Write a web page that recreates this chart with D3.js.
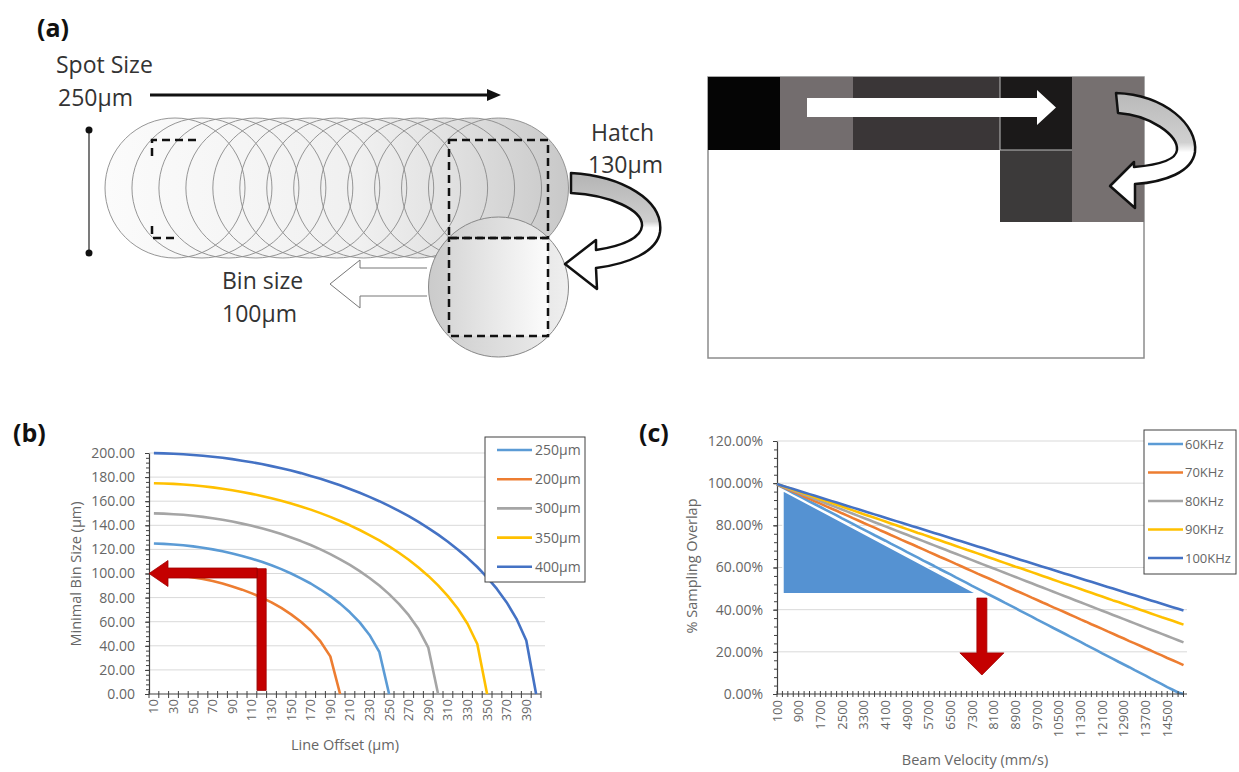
<!DOCTYPE html>
<html>
<head>
<meta charset="utf-8">
<script src="https://cdn.jsdelivr.net/npm/d3@7/dist/d3.min.js"></script>
<style>
  body { margin: 0; background: #fff; }
  svg { display: block; }
</style>
</head>
<body>
<script>
// ---------- (b) Minimal bin size vs line offset ----------
const offsetCategories = d3.range(10, 401, 10);            // Line Offset (µm)
const offsetLabels = d3.range(10, 391, 20);                 // labelled categories
const binTicks = [0, 20, 40, 60, 80, 100, 120, 140, 160, 180, 200];
const binSeriesNames = ["250µm", "200µm", "300µm", "350µm", "400µm"];
const bin250 = [124.9,124.6,124.1,123.4,122.5,121.3,120.0,118.4,116.6,114.6,112.2,109.7,106.8,103.6,100.0,96.0,91.7,86.7,81.2,75.0,67.8,59.4,49.0,35.0,0];
const bin200 = [99.9,99.5,98.9,98.0,96.8,95.4,93.7,91.7,89.3,86.6,83.5,80.0,76.0,71.4,66.1,60.0,52.7,43.6,31.2,0];
const bin300 = [149.9,149.7,149.2,148.7,147.9,147.0,145.9,144.6,143.1,141.4,139.6,137.5,135.2,132.7,129.9,126.9,123.6,120.0,116.1,111.8,107.1,102.0,96.3,90.0,82.9,74.8,65.4,53.9,38.4,0];
const bin350 = [174.9,174.7,174.4,173.9,173.2,172.4,171.5,170.4,169.1,167.7,166.1,164.4,162.5,160.4,158.1,155.6,153.0,150.1,147.0,143.6,140.0,136.1,131.9,127.4,122.5,117.2,111.4,105.0,98.0,90.1,81.2,70.9,58.3,41.5,0];
const bin400 = [199.9,199.7,199.4,199.0,198.4,197.7,196.9,196.0,194.9,193.6,192.3,190.8,189.1,187.3,185.4,183.3,181.0,178.6,176.0,173.2,170.2,167.0,163.6,160.0,156.1,152.0,147.6,142.8,137.7,132.3,126.4,120.0,113.0,105.4,96.8,87.2,76.0,62.4,44.4,0];
const binColors = ["#5b9bd5", "#ed7d31", "#a5a5a5", "#ffc000", "#4472c4"];
// red guide: from offset 120 up to a 100 µm bin, then across to the axis
const binGuide = { offset: 120, from: 3, level: 104, bin: 100 };

// ---------- (c) Sampling overlap vs beam velocity ----------
const velocityCategories = d3.range(100, 15101, 200);      // Beam Velocity (mm/s)
const velocityLabels = d3.range(100, 14501, 800);
const overlapTicks = [0, 20, 40, 60, 80, 100, 120];
const overlapSeriesNames = ["60KHz", "70KHz", "80KHz", "90KHz", "100KHz"];
const ov60 = [99.3,98.0,96.7,95.3,94.0,92.7,91.3,90.0,88.7,87.3,86.0,84.7,83.3,82.0,80.7,79.3,78.0,76.7,75.3,74.0,72.7,71.3,70.0,68.7,67.3,66.0,64.7,63.3,62.0,60.7,59.3,58.0,56.7,55.3,54.0,52.7,51.3,50.0,48.7,47.3,46.0,44.7,43.3,42.0,40.7,39.3,38.0,36.7,35.3,34.0,32.7,31.3,30.0,28.7,27.3,26.0,24.7,23.3,22.0,20.7,19.3,18.0,16.7,15.3,14.0,12.7,11.3,10.0,8.7,7.3,6.0,4.7,3.3,2.0,0.7,0.0];
const ov70 = [99.4,98.3,97.1,96.0,94.9,93.7,92.6,91.4,90.3,89.1,88.0,86.9,85.7,84.6,83.4,82.3,81.1,80.0,78.9,77.7,76.6,75.4,74.3,73.1,72.0,70.9,69.7,68.6,67.4,66.3,65.1,64.0,62.9,61.7,60.6,59.4,58.3,57.1,56.0,54.9,53.7,52.6,51.4,50.3,49.1,48.0,46.9,45.7,44.6,43.4,42.3,41.1,40.0,38.9,37.7,36.6,35.4,34.3,33.1,32.0,30.9,29.7,28.6,27.4,26.3,25.1,24.0,22.9,21.7,20.6,19.4,18.3,17.1,16.0,14.9,13.7];
const ov80 = [99.5,98.5,97.5,96.5,95.5,94.5,93.5,92.5,91.5,90.5,89.5,88.5,87.5,86.5,85.5,84.5,83.5,82.5,81.5,80.5,79.5,78.5,77.5,76.5,75.5,74.5,73.5,72.5,71.5,70.5,69.5,68.5,67.5,66.5,65.5,64.5,63.5,62.5,61.5,60.5,59.5,58.5,57.5,56.5,55.5,54.5,53.5,52.5,51.5,50.5,49.5,48.5,47.5,46.5,45.5,44.5,43.5,42.5,41.5,40.5,39.5,38.5,37.5,36.5,35.5,34.5,33.5,32.5,31.5,30.5,29.5,28.5,27.5,26.5,25.5,24.5];
const ov90 = [99.6,98.7,97.8,96.9,96.0,95.1,94.2,93.3,92.4,91.6,90.7,89.8,88.9,88.0,87.1,86.2,85.3,84.4,83.6,82.7,81.8,80.9,80.0,79.1,78.2,77.3,76.4,75.6,74.7,73.8,72.9,72.0,71.1,70.2,69.3,68.4,67.6,66.7,65.8,64.9,64.0,63.1,62.2,61.3,60.4,59.6,58.7,57.8,56.9,56.0,55.1,54.2,53.3,52.4,51.6,50.7,49.8,48.9,48.0,47.1,46.2,45.3,44.4,43.6,42.7,41.8,40.9,40.0,39.1,38.2,37.3,36.4,35.6,34.7,33.8,32.9];
const ov100 = [99.6,98.8,98.0,97.2,96.4,95.6,94.8,94.0,93.2,92.4,91.6,90.8,90.0,89.2,88.4,87.6,86.8,86.0,85.2,84.4,83.6,82.8,82.0,81.2,80.4,79.6,78.8,78.0,77.2,76.4,75.6,74.8,74.0,73.2,72.4,71.6,70.8,70.0,69.2,68.4,67.6,66.8,66.0,65.2,64.4,63.6,62.8,62.0,61.2,60.4,59.6,58.8,58.0,57.2,56.4,55.6,54.8,54.0,53.2,52.4,51.6,50.8,50.0,49.2,48.4,47.6,46.8,46.0,45.2,44.4,43.6,42.8,42.0,41.2,40.4,39.6];
const overlapColors = ["#5b9bd5", "#ed7d31", "#a5a5a5", "#ffc000", "#4472c4"];
// shaded region below 60KHz line, and red arrow below its tip (velocity, %)
const overlapRegion = [[320, 96.5], [320, 47.5], [7480, 47.5]];
const overlapArrow = { velocity: 7660, top: 45.5, headBase: 19.5, tip: 9 };

const W = 1239, H = 772;
const FONT = "'Open Sans', 'DejaVu Sans', sans-serif";
const TXT = "#666";
const AXIS = "#404040";
const GRID = "#d9d9d9";
const TICK_FS = 14, TITLE_FS = 14.5, XLAB_FS = 13;

const svg = d3.select("body").append("svg").attr("width", W).attr("height", H)
  .style("font-family", FONT);
const defs = svg.append("defs");

function linGrad(id, x1, y1, x2, y2, stops) {
  const g = defs.append("linearGradient").attr("id", id)
    .attr("gradientUnits", "userSpaceOnUse")
    .attr("x1", x1).attr("y1", y1).attr("x2", x2).attr("y2", y2);
  stops.forEach(([o, c]) => g.append("stop").attr("offset", o).attr("stop-color", c));
}

// ---------- panel labels ----------
[["(a)", 37, 37], ["(b)", 13, 442], ["(c)", 639, 442]].forEach(([t, x, y]) =>
  svg.append("text").attr("x", x).attr("y", y).text(t)
    .attr("font-size", 25).attr("font-weight", 700).attr("fill", "#111"));

// ---------- (a) scan schematic ----------
const a = svg.append("g");
const bigText = (t, x, y) => a.append("text").attr("x", x).attr("y", y).text(t)
  .attr("font-size", 23).attr("fill", "#333");

bigText("Spot Size", 56, 73);
bigText("250µm", 58, 106);
a.append("line").attr("x1", 150).attr("x2", 490).attr("y1", 95).attr("y2", 95)
  .attr("stroke", "#111").attr("stroke-width", 3);
a.append("path").attr("d", "M487,89 L501,95 L487,101 Z").attr("fill", "#111");

// spot diameter marker
a.append("line").attr("x1", 89).attr("x2", 89).attr("y1", 130).attr("y2", 253)
  .attr("stroke", "#222").attr("stroke-width", 1.2);
[130, 253].forEach(y => a.append("circle").attr("cx", 89).attr("cy", y).attr("r", 3.5).attr("fill", "#111"));

// overlapping spots along the scan line
linGrad("tubeGrad", 105, 0, 569, 0, [[0, "#fbfbfb"], [0.55, "#f0f0f0"], [0.72, "#e3e3e3"], [1, "#c8c8c8"]]);
const spotR = 70, spotY = 188;
const spotX = d3.range(13).map(i => 175 + i * (498.5 - 175) / 12);
a.selectAll("circle.spotfill").data(spotX).join("circle")
  .attr("cx", d => d).attr("cy", spotY).attr("r", spotR).attr("fill", "url(#tubeGrad)");
a.selectAll("circle.spotline").data(spotX).join("circle")
  .attr("cx", d => d).attr("cy", spotY).attr("r", spotR)
  .attr("fill", "none").attr("stroke", "#8a8a8a").attr("stroke-width", 0.9);

// first bin corners (left)
a.append("path").attr("d", "M152,156 V140 H196 M152,226 V238 H178")
  .attr("fill", "none").attr("stroke", "#111").attr("stroke-width", 2.5).attr("stroke-dasharray", "8,5");

// next-line spot and its bin
linGrad("lowGrad", 428, 0, 569, 0, [[0, "#cbcbcb"], [1, "#efefef"]]);
linGrad("binGrad", 449, 0, 548, 0, [[0, "#d8d8d8"], [1, "#fcfcfc"]]);
a.append("circle").attr("cx", 498.5).attr("cy", 287).attr("r", 70)
  .attr("fill", "url(#lowGrad)").attr("stroke", "#888").attr("stroke-width", 1);
a.append("rect").attr("x", 449).attr("y", 238).attr("width", 99).attr("height", 98)
  .attr("fill", "url(#binGrad)").attr("stroke", "#111").attr("stroke-width", 2.5).attr("stroke-dasharray", "8,5");
a.append("rect").attr("x", 449).attr("y", 140).attr("width", 99).attr("height", 98)
  .attr("fill", "none").attr("stroke", "#111").attr("stroke-width", 2.5).attr("stroke-dasharray", "8,5");

// hatch arrow
linGrad("hatchGrad", 0, 172, 0, 262, [[0, "#b3b3b3"], [0.55, "#cfcfcf"], [0.62, "#ffffff"], [1, "#ffffff"]]);
a.append("path")
  .attr("d", "M571,173 C622,176 664,200 660,232 C657,252 628,264 596,268 L597,289 L565,264 L596,240 L596,250 C622,246 641,238 642,226 C643,210 610,195 571,193 Z")
  .attr("fill", "url(#hatchGrad)").attr("stroke", "#111").attr("stroke-width", 2.5).attr("stroke-linejoin", "round");
bigText("Hatch", 591, 141);
bigText("130µm", 588, 173);

// bin-size arrow
a.append("path").attr("d", "M427,268 L360,268 L360,260 L330,284 L360,308 L360,296 L427,296")
  .attr("fill", "#fff").attr("stroke", "#777").attr("stroke-width", 1);
bigText("Bin size", 222, 289);
bigText("100µm", 222, 322);

// raster of bins (right)
const boxes = [
  [708, 77, 72, 73, "#050505"],
  [780, 77, 73, 73, "#736d6e"],
  [853, 77, 147, 73, "#3a3637"],
  [1000, 77, 72, 73, "#1b1919"],
  [1072, 77, 72, 145, "#767070"],
  [1000, 150, 72, 72, "#3c3a3a"]
];
a.append("rect").attr("x", 708).attr("y", 77).attr("width", 436).attr("height", 281)
  .attr("fill", "#fff").attr("stroke", "#8c8c8c").attr("stroke-width", 1.5);
boxes.forEach(([x, y, w, h, c]) => a.append("rect").attr("x", x).attr("y", y)
  .attr("width", w).attr("height", h).attr("fill", c));
a.append("path").attr("d", "M1000,77 V150 M1000,150 H1072").attr("stroke", "#bdbdbd").attr("stroke-width", 1);
a.append("path").attr("d", "M807,98 L1037,98 L1037,90 L1056,107.5 L1037,125 L1037,117 L807,117 Z").attr("fill", "#fff");
linGrad("hatchGrad2", 0, 93, 0, 192, [[0, "#b9b9b9"], [0.5, "#d0d0d0"], [0.6, "#ffffff"], [1, "#ffffff"]]);
a.append("path")
  .attr("d", "M1116,93 C1165,95 1198,125 1195,152 C1192,172 1165,182 1135,184 L1135,208 L1110,186 L1134,162 L1134,167 C1158,165 1176,160 1177,150 C1178,135 1150,115 1118,113 Z")
  .attr("fill", "url(#hatchGrad2)").attr("stroke", "#111").attr("stroke-width", 2.5).attr("stroke-linejoin", "round");

// ---------- shared axis helpers ----------
function styleAxis(g, size) {
  g.select(".domain").attr("stroke", AXIS).attr("stroke-width", 1.2);
  g.selectAll(".tick line").attr("stroke", AXIS);
  g.selectAll("text").attr("fill", TXT).style("font-family", FONT).style("font-size", size + "px");
}

// ---------- (b) chart ----------
const bX = d3.scaleBand().domain(offsetCategories).range([149, 541]);
const bY = d3.scaleLinear().domain([0, 200]).range([694, 453]);
const bPos = c => bX(c) + bX.bandwidth() / 2;
const b = svg.append("g");

b.selectAll("line.grid").data(binTicks.slice(1)).join("line")
  .attr("x1", 149).attr("x2", 545).attr("y1", d => bY(d)).attr("y2", d => bY(d))
  .attr("stroke", GRID).attr("stroke-width", 1);

// minor y ticks
b.append("g").attr("transform", "translate(149,0)")
  .call(d3.axisLeft(bY).tickValues(d3.range(0, 201, 4)).tickSize(3).tickFormat(""))
  .call(g => { g.select(".domain").remove(); g.selectAll("line").attr("stroke", AXIS); });
b.append("g").attr("transform", "translate(149,0)")
  .call(d3.axisLeft(bY).tickValues(binTicks).tickSizeInner(4).tickSizeOuter(0).tickPadding(10).tickFormat(d3.format(".2f")))
  .call(g => styleAxis(g, TICK_FS));

// x axis: boundary ticks + rotated labels
const bxAxis = b.append("g").attr("transform", "translate(0,694)");
bxAxis.append("line").attr("x1", 149).attr("x2", 541).attr("stroke", AXIS).attr("stroke-width", 1.2);
bxAxis.selectAll("line.t").data(offsetCategories.concat([null])).join("line")
  .attr("x1", (d, i) => 149 + i * bX.step()).attr("x2", (d, i) => 149 + i * bX.step())
  .attr("y1", -3).attr("y2", 4).attr("stroke", AXIS);
bxAxis.selectAll("text").data(offsetLabels).join("text")
  .attr("transform", d => `translate(${bPos(d)},5) rotate(-90)`)
  .attr("text-anchor", "end").attr("dy", "0.35em")
  .attr("fill", TXT).attr("font-size", XLAB_FS).text(d => d);

b.append("text").attr("transform", "translate(81,574) rotate(-90)").attr("text-anchor", "middle")
  .attr("fill", TXT).attr("font-size", TITLE_FS).text("Minimal Bin Size (µm)");
b.append("text").attr("x", 345).attr("y", 750).attr("text-anchor", "middle")
  .attr("fill", TXT).attr("font-size", TITLE_FS).text("Line Offset (µm)");

const binSeries = [bin250, bin200, bin300, bin350, bin400];
const bLine = d3.line().x((d, i) => bPos(offsetCategories[i])).y(d => bY(d));
binSeries.forEach((vals, k) => b.append("path").attr("d", bLine(vals))
  .attr("fill", "none").attr("stroke", binColors[k]).attr("stroke-width", 2.6).attr("stroke-linejoin", "round"));

// red guide arrow
{
  const gx = bPos(binGuide.offset), gyTop = bY(binGuide.level), gyBot = bY(binGuide.from);
  const gy = bY(binGuide.bin), x0 = bX.range()[0];
  const t = 9;
  b.append("path").attr("d",
    `M${gx - t / 2},${gyBot} V${gy - t / 2 - 1} H${x0 + 19} V${gy - 13} L${x0},${gy} L${x0 + 19},${gy + 13} V${gy + t / 2} H${gx - t / 2}` +
    ` M${gx - t / 2},${gyTop} H${gx + t / 2} V${gyBot} H${gx - t / 2} Z`)
    .attr("fill", "#c40000").attr("stroke", "#a00000").attr("stroke-width", 0.8);
}

// legend
const bLeg = b.append("g");
bLeg.append("rect").attr("x", 485).attr("y", 437).attr("width", 100).attr("height", 145)
  .attr("fill", "#fff").attr("stroke", AXIS).attr("stroke-width", 1);
binSeriesNames.forEach((n, k) => {
  const y = 450 + k * 29.2;
  bLeg.append("line").attr("x1", 497).attr("x2", 532).attr("y1", y).attr("y2", y)
    .attr("stroke", binColors[k]).attr("stroke-width", 2.6);
  bLeg.append("text").attr("x", 535).attr("y", y).attr("dy", "0.35em")
    .attr("fill", TXT).attr("font-size", TICK_FS).text(n);
});

// ---------- (c) chart ----------
const cX = d3.scalePoint().domain(velocityCategories).range([777, 1183.5]);
const cXv = d3.scaleLinear().domain([velocityCategories[0], velocityCategories[velocityCategories.length - 1]]).range(cX.range());
const cY = d3.scaleLinear().domain([0, 120]).range([694, 441]);
const c = svg.append("g");

c.selectAll("line.grid").data(overlapTicks.slice(1)).join("line")
  .attr("x1", 777).attr("x2", 1187).attr("y1", d => cY(d)).attr("y2", d => cY(d))
  .attr("stroke", GRID).attr("stroke-width", 1);

c.append("g").attr("transform", "translate(777,0)")
  .call(d3.axisLeft(cY).tickValues(d3.range(0, 121, 4)).tickSize(3).tickFormat(""))
  .call(g => { g.select(".domain").remove(); g.selectAll("line").attr("stroke", AXIS); });
c.append("g").attr("transform", "translate(777,0)")
  .call(d3.axisLeft(cY).tickValues(overlapTicks).tickSizeInner(4).tickSizeOuter(0).tickPadding(10).tickFormat(d => d.toFixed(2) + "%"))
  .call(g => styleAxis(g, TICK_FS));

// shaded region
c.append("path").attr("d", d3.line().x(d => cXv(d[0])).y(d => cY(d[1]))(overlapRegion) + "Z")
  .attr("fill", "#5592d2").attr("stroke", "#fff").attr("stroke-width", 1.5);

const overlapSeries = [ov60, ov70, ov80, ov90, ov100];
const cLine = d3.line().x((d, i) => cX(velocityCategories[i])).y(d => cY(d));
overlapSeries.forEach((vals, k) => c.append("path").attr("d", cLine(vals))
  .attr("fill", "none").attr("stroke", overlapColors[k]).attr("stroke-width", 2.6).attr("stroke-linejoin", "round"));

const cxAxis = c.append("g").attr("transform", "translate(0,694)");
cxAxis.append("line").attr("x1", 777).attr("x2", 1187).attr("stroke", AXIS).attr("stroke-width", 1.2);
cxAxis.selectAll("line.t").data(velocityCategories).join("line")
  .attr("x1", d => cX(d)).attr("x2", d => cX(d)).attr("y1", -3).attr("y2", 3).attr("stroke", AXIS);
cxAxis.selectAll("text").data(velocityLabels).join("text")
  .attr("transform", d => `translate(${cX(d)},6) rotate(-90)`)
  .attr("text-anchor", "end").attr("dy", "0.35em")
  .attr("fill", TXT).attr("font-size", XLAB_FS).text(d => d);

c.append("text").attr("transform", "translate(697,566) rotate(-90)").attr("text-anchor", "middle")
  .attr("fill", TXT).attr("font-size", TITLE_FS).text("% Sampling Overlap");
c.append("text").attr("x", 975).attr("y", 765).attr("text-anchor", "middle")
  .attr("fill", TXT).attr("font-size", TITLE_FS).text("Beam Velocity (mm/s)");

// red arrow below the shaded region
{
  const ax = cXv(overlapArrow.velocity), y0 = cY(overlapArrow.top), y1 = cY(overlapArrow.headBase), y2 = cY(overlapArrow.tip);
  c.append("path").attr("d",
    `M${ax - 5},${y0} H${ax + 5} V${y1} H${ax + 22} L${ax},${y2} L${ax - 22},${y1} H${ax - 5} Z`)
    .attr("fill", "#c40000").attr("stroke", "#a00000").attr("stroke-width", 0.8);
}

// legend
const cLeg = c.append("g");
cLeg.append("rect").attr("x", 1144).attr("y", 430).attr("width", 92).attr("height", 144)
  .attr("fill", "#fff").attr("stroke", AXIS).attr("stroke-width", 1);
overlapSeriesNames.forEach((n, k) => {
  const y = 444 + k * 28.5;
  cLeg.append("line").attr("x1", 1148).attr("x2", 1183).attr("y1", y).attr("y2", y)
    .attr("stroke", overlapColors[k]).attr("stroke-width", 2.6);
  cLeg.append("text").attr("x", 1185).attr("y", y).attr("dy", "0.35em")
    .attr("fill", TXT).attr("font-size", 13).text(n);
});
</script>
</body>
</html>
